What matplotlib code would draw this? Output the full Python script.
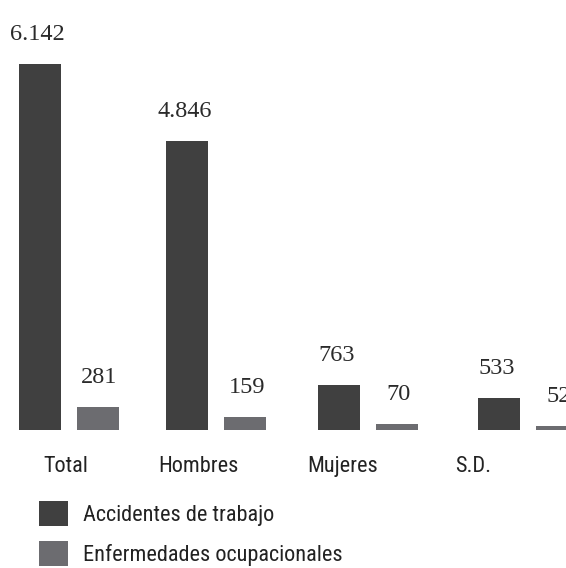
import matplotlib
matplotlib.use("Agg")
import matplotlib.pyplot as plt
import numpy as np
import logging
logging.getLogger("matplotlib.font_manager").setLevel(logging.ERROR)

categories = ["Total", "Hombres", "Mujeres", "S.D."]
accidentes = [6142, 4846, 763, 533]
enfermedades = [281, 159, 70, 52]
acc_labels = ["6.142", "4.846", "763", "533"]
enf_labels = ["281", "159", "70", "52"]
series_names = ["Accidentes de trabajo", "Enfermedades ocupacionales"]

# layout (pixel-like x coordinates across the 566 px wide figure)
group_x = np.array([68.5, 216.0, 368.0, 527.5])
label_x = [66, 198, 343, 473]
bar_off = 29
bar_w = 42
dark = "#404040"
light = "#6c6c70"

sans = ["Roboto Condensed", "Arial Narrow", "Liberation Sans Narrow", "Roboto", "DejaVu Sans"]
serif = ["Liberation Serif", "DejaVu Serif"]

W, H = 566, 568
fig = plt.figure(figsize=(W / 100, H / 100), dpi=100)
base = 430
ax = fig.add_axes([0, (H - base) / H, 1, base / H])
ax2 = ax.twinx()

ax.set_xlim(0, W)
ax.set_ylim(0, 6142 * base / 366)
ax2.set_ylim(0, base / 0.082)

b1 = ax.bar(group_x - bar_off, accidentes, width=bar_w, color=dark, label=series_names[0])
b2 = ax2.bar(group_x + bar_off, enfermedades, width=bar_w, color=light, label=series_names[1])

for rect, lab in zip(b1, acc_labels):
    ax.annotate(lab, (rect.get_x() + rect.get_width() / 2, rect.get_height()),
                xytext=(-2, 24), textcoords="offset pixels", ha="center", va="baseline",
                fontsize=17.5, family=serif, color="#2a2a2a", annotation_clip=False)
for rect, lab in zip(b2, enf_labels):
    ax2.annotate(lab, (rect.get_x() + rect.get_width() / 2, rect.get_height()),
                 xytext=(2, 24), textcoords="offset pixels", ha="center", va="baseline",
                 fontsize=17.5, family=serif, color="#2a2a2a", annotation_clip=False)

for a in (ax, ax2):
    for s in a.spines.values():
        s.set_visible(False)
    a.set_yticks([])
ax.set_xticks(label_x)
ax.set_xticklabels(categories, family=sans, fontsize=16, color="#222222")
ax.tick_params(axis="x", length=0, pad=19)

fig.legend(handles=[b1, b2], labels=series_names, loc="upper left",
           bbox_to_anchor=(39 / W, 1 - 501 / H), frameon=False,
           prop={"family": sans, "size": 16},
           handlelength=1.3, handleheight=1.36, handletextpad=0.7,
           labelspacing=0.68, borderpad=0, borderaxespad=0, labelcolor="#222222")

fig.savefig("out.png", dpi=100)
